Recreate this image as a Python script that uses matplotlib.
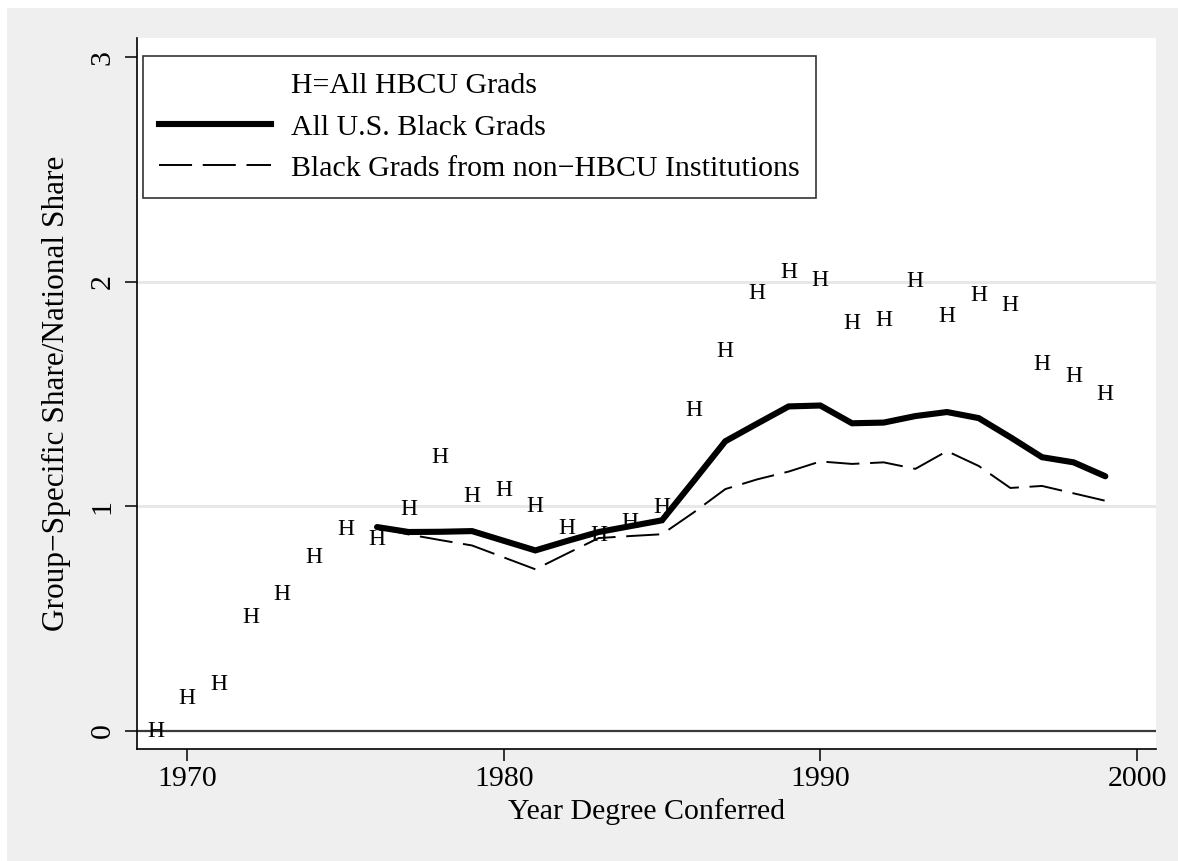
import matplotlib
matplotlib.use("Agg")
import matplotlib.pyplot as plt
from matplotlib.lines import Line2D
from matplotlib.patches import Rectangle

plt.rcParams['font.family'] = ['Liberation Serif', 'DejaVu Serif']
plt.rcParams['axes.unicode_minus'] = True

# HBCU grads (H markers), 1969-1999
hbcu_years = list(range(1969, 2000))
hbcu_vals = [0.0, 0.145, 0.208, 0.505, 0.607, 0.774, 0.898, 0.852, 0.986, 1.218,
             1.046, 1.071, 1.001, 0.900, 0.872, 0.930, 0.995, 1.426, 1.689, 1.948,
             2.042, 2.004, 1.815, 1.829, 2.000, 1.847, 1.940, 1.896, 1.632, 1.579,
             1.498]

# All U.S. Black grads and non-HBCU Black grads, 1976-1999
line_years = list(range(1976, 2000))
all_black = [0.908, 0.886, 0.887, 0.890, 0.847, 0.804, 0.846, 0.886, 0.912, 0.938,
             1.113, 1.290, 1.368, 1.445, 1.449, 1.370, 1.373, 1.402, 1.420, 1.393,
             1.308, 1.219, 1.196, 1.134]
non_hbcu = [0.905, 0.875, 0.850, 0.826, 0.773, 0.720, 0.790, 0.859, 0.868, 0.876,
            0.973, 1.077, 1.120, 1.155, 1.200, 1.189, 1.196, 1.167, 1.246, 1.180,
            1.082, 1.091, 1.058, 1.025]

FS = 21.5
W, H = 1178, 861
fig = plt.figure(figsize=(W / 100, H / 100), dpi=100)
fig.patch.set_facecolor('white')
fig.patches.append(Rectangle((7 / W, 0), 1 - 7 / W, (H - 8) / H,
                             transform=fig.transFigure, facecolor='#efefef',
                             edgecolor='none', zorder=-10))

ax = fig.add_axes([137 / W, (H - 749) / H, (1156 - 137) / W, (749 - 38) / H])
ax.set_facecolor('white')

ax.set_xlim(1968.42, 2000.6)
ax.set_ylim(-0.08, 3.085)

for y in [1, 2]:
    ax.axhline(y, color='#e8e8e8', lw=2.2, zorder=0)
ax.axhline(0, color='#3a3a3a', lw=1.6, zorder=1)

ax.plot(line_years, all_black, color='black', lw=4.4, solid_capstyle='round',
        solid_joinstyle='miter', zorder=3)
ax.plot(line_years, non_hbcu, color='black', lw=1.4, linestyle=(0, (17, 5.5)), zorder=3)

for yr, v in zip(hbcu_years, hbcu_vals):
    ax.text(yr, v, 'H', ha='center', va='center', fontsize=17, zorder=4)

for s in ['top', 'right']:
    ax.spines[s].set_visible(False)
for s in ['left', 'bottom']:
    ax.spines[s].set_linewidth(1.2)

ax.set_xticks([1970, 1980, 1990, 2000])
ax.set_yticks([0, 1, 2, 3])
ax.tick_params(axis='both', length=8.5, width=1.1, labelsize=FS, pad=4)
ax.tick_params(axis='y', pad=7)
for lab in ax.get_yticklabels():
    lab.set_rotation(90)
    lab.set_va('center')

ax.set_xlabel('Year Degree Conferred', fontsize=FS, labelpad=4)
ax.set_ylabel('Group\u2212Specific Share/National Share', fontsize=22.5, labelpad=13)

handles = [Line2D([], [], linestyle='none'),
           Line2D([], [], color='black', lw=4.4),
           Line2D([], [], color='black', lw=1.4, linestyle=(0, (17, 5.5)))]
labels = ['H=All HBCU Grads', 'All U.S. Black Grads',
          'Black Grads from non\u2212HBCU Institutions']
leg = ax.legend(handles, labels, loc='upper left', bbox_to_anchor=(0.0059, 0.9747),
                fontsize=FS, handlelength=3.75, handletextpad=0.64, borderpad=0.55,
                labelspacing=0.48, frameon=True, fancybox=False, borderaxespad=0)
leg.get_frame().set_edgecolor('black')
leg.get_frame().set_linewidth(1.2)

fig.savefig('out.png', dpi=100, facecolor=fig.get_facecolor())
